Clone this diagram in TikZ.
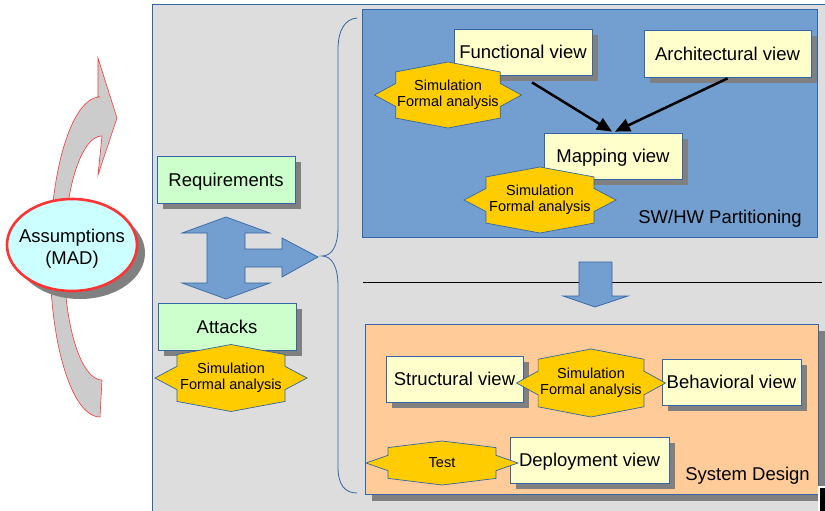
\documentclass[tikz,border=0pt]{standalone}
\usepackage{fontspec}
\setmainfont{Liberation Sans}
\usetikzlibrary{shapes.geometric,shadows,arrows.meta}

\definecolor{edgeblue}{HTML}{3465A4}
\definecolor{areablue}{HTML}{729FCF}
\definecolor{panelgray}{HTML}{DDDDDD}
\definecolor{reqgreen}{HTML}{CCFFCC}
\definecolor{viewyellow}{HTML}{FFFFCC}
\definecolor{sealgold}{HTML}{FFCC00}
\definecolor{designpeach}{HTML}{FFCC99}
\definecolor{shadegray}{HTML}{808080}
\definecolor{arcred}{HTML}{FF3333}
\definecolor{arcgray}{HTML}{CCCCCC}
\definecolor{madcyan}{HTML}{CCFFFF}

\tikzset{
  bigtxt/.style={font=\fontsize{18.5}{22}\selectfont},
  smalltxt/.style={font=\fontsize{14.5}{16}\selectfont},
  boxshadow/.style={drop shadow={shadow xshift=6pt, shadow yshift=-6pt, fill=shadegray, opacity=1}},
  viewbox/.style={draw=edgeblue, line width=0.8pt, fill=viewyellow, inner sep=0pt,
                  minimum height=46pt, text height=17pt, text depth=4pt, bigtxt, boxshadow},
  reqbox/.style={viewbox, fill=reqgreen, minimum width=138pt, minimum height=47pt},
  sealshape/.style={fill=sealgold, draw=edgeblue, line width=0.7pt, line join=miter},
  sealtxt/.style={smalltxt, align=center, inner sep=0pt},
  flow/.style={line width=2.5pt, -{Triangle[length=15pt,width=13pt]}},
  blockarrow/.style={fill=areablue, draw=edgeblue, line width=0.7pt, line join=miter},
  areatitle/.style={bigtxt, inner sep=0pt}
}

% eight-pointed seal: name, centre x, centre y, half width, half height, text
\newcommand\sealat[6]{%
  \filldraw[sealshape]
    ({#2},{#3-#5}) -- ({#2+0.71*#4},{#3-0.7*#5}) -- ({#2+0.71*#4},{#3-0.35*#5})
    -- ({#2+#4},{#3}) -- ({#2+0.71*#4},{#3+0.35*#5}) -- ({#2+0.71*#4},{#3+0.7*#5})
    -- ({#2},{#3+#5}) -- ({#2-0.71*#4},{#3+0.7*#5}) -- ({#2-0.71*#4},{#3+0.35*#5})
    -- ({#2-#4},{#3}) -- ({#2-0.71*#4},{#3-0.35*#5}) -- ({#2-0.71*#4},{#3-0.7*#5})
    -- cycle;
  \node[sealtxt] (#1) at (#2,#3) {#6};%
}

\begin{document}
\begin{tikzpicture}[x=1pt,y=-1pt]
\useasboundingbox (0,0) rectangle (825,511);

% grey working area
\filldraw[fill=panelgray, draw=edgeblue, line width=1pt] (152,5) rectangle (845,525);

% curved arrow around the assumptions
\filldraw[fill=arcgray, draw=arcred, line width=0.6pt, line join=miter]
  (117,118) -- (98,58) -- (98,97)
  -- plot[domain=270:90,samples=80,variable=\t] ({100+50*cos(\t)},{257+160*sin(\t)})
  -- plot[domain=90:270,samples=80,variable=\t] ({102+38*cos(\t)},{258+122*sin(\t)})
  -- (98,175) -- cycle;

% assumptions ellipse with its shadow
\fill[shadegray] (80,253) ellipse [x radius=65, y radius=46];
\filldraw[fill=madcyan, draw=arcred, line width=2.6pt] (72,245) ellipse [x radius=65, y radius=46];
\node[align=center, bigtxt, inner sep=0pt] (mad) at (72,249) {Assumptions\\(MAD)};

% requirements and attacks
\node[reqbox] (req) at (226,179.5) {Requirements};
\node[reqbox] (att) at (227,326.5) {Attacks};
\sealat{attseal}{231}{378}{76}{33.5}{Simulation\\Formal analysis}

% double arrow with branch to the right
\filldraw[blockarrow]
  (226,217) -- (270,233) -- (245,233) -- (245,249) -- (282,249) -- (282,238)
  -- (318,257) -- (282,277) -- (282,267) -- (245,267) -- (245,283) -- (270,283)
  -- (226,299) -- (182,283) -- (207,283) -- (207,233) -- (182,233) -- cycle;

% brace gathering both stages
\draw[edgeblue, line width=0.8pt]
  (357,18) .. controls (345,19) and (338,30) .. (338,50) -- (338,227)
  .. controls (338,246) and (332,256) .. (322,256)
  .. controls (332,256) and (338,267) .. (338,286) -- (338,467)
  .. controls (338,485) and (345,493) .. (357,493);

% SW/HW partitioning stage
\filldraw[fill=areablue, draw=edgeblue, line width=0.8pt] (362,9) rectangle (817,237);
\node[viewbox, minimum width=138pt] (fv) at (523,52) {Functional view};
\node[viewbox, minimum width=167pt, minimum height=47pt] (av) at (727.5,53.5) {Architectural view};
\node[viewbox, minimum width=138pt] (mv) at (613,156) {Mapping view};
\sealat{fvseal}{448}{95}{73.5}{33}{Simulation\\Formal analysis}
\sealat{mvseal}{540}{200}{76}{33}{Simulation\\Formal analysis}
\draw[flow] ([xshift=9pt,yshift=-7pt]fv.south) -- ([xshift=-1pt,yshift=1pt]mv.north);
\draw[flow] ([xshift=0pt,yshift=-1pt]av.south) -- ([xshift=2pt,yshift=1pt]mv.north);
\node[areatitle, anchor=base east] (swhw) at (802,223) {SW/HW Partitioning};

% separator and step arrow
\draw[black, line width=0.8pt] (363,282) -- (822,282);
\filldraw[blockarrow]
  (579,262) -- (612,262) -- (612,296) -- (628,296) -- (595,307) -- (563,296)
  -- (579,296) -- cycle;

% system design stage
\fill[shadegray] (372,331) rectangle (825,501);
\filldraw[fill=designpeach, draw=edgeblue, line width=0.8pt] (365,324) rectangle (818,494);
\node[viewbox, minimum width=137pt] (sv) at (454.5,379) {Structural view};
\node[viewbox, minimum width=139pt] (bv) at (731.5,382) {Behavioral view};
\node[viewbox, minimum width=159pt] (dv) at (589.5,460) {Deployment view};
\sealat{sdseal}{591}{383}{74.5}{34}{Simulation\\Formal analysis}
\sealat{testseal}{442}{463}{76}{22}{Test}
\node[areatitle, anchor=base east] (sysd) at (810,480) {System Design};

% corner mark
\fill[white] (817.5,486) rectangle (826,512);
\fill[black] (820,488) rectangle (826,512);
\end{tikzpicture}
\end{document}
